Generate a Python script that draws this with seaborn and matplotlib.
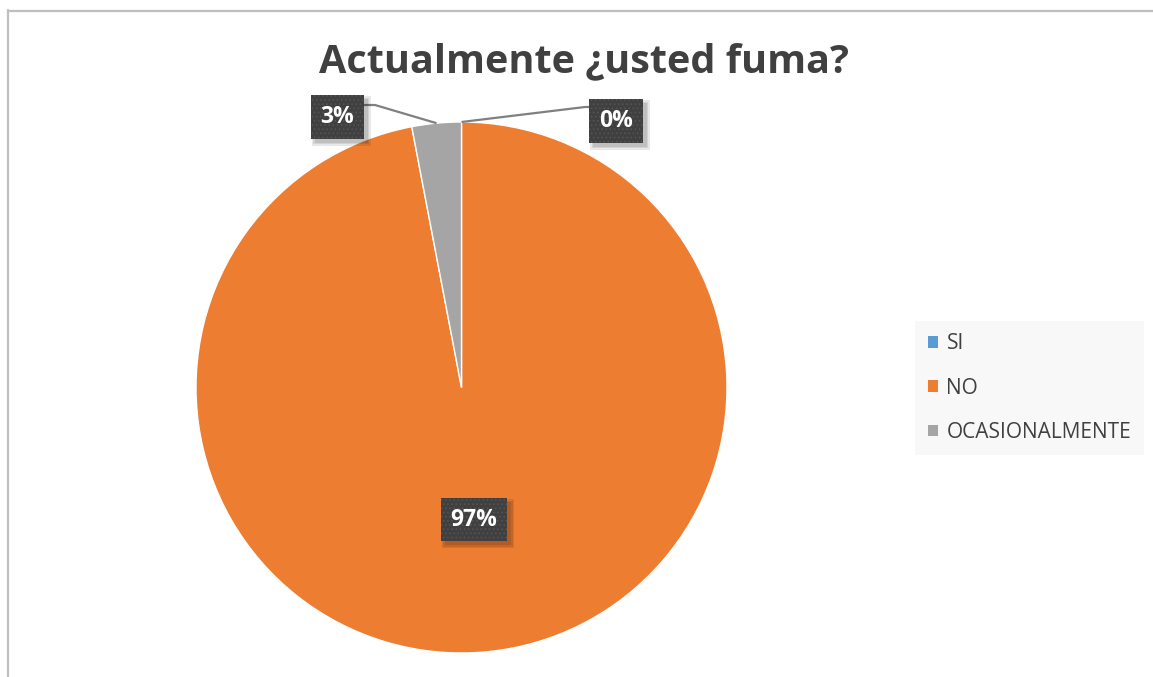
import numpy as np
import matplotlib
matplotlib.use("Agg")
import matplotlib.pyplot as plt
from matplotlib.patches import Patch, Rectangle
from matplotlib.lines import Line2D
from matplotlib.transforms import IdentityTransform
import seaborn as sns

# Survey answers and their shares (percent)
categories = ["SI", "NO", "OCASIONALMENTE"]
shares = [0, 97, 3]
label_texts = ["0%", "97%", "3%"]
colors = ["#5B9BD5", "#ED7D31", "#A5A5A5"]
title = "Actualmente ¿usted fuma?"

sns.set_theme(style="white")
plt.rcParams["font.family"] = ["Open Sans", "DejaVu Sans"]
plt.rcParams["hatch.linewidth"] = 0.6

W, H = 1153, 677
fig = plt.figure(figsize=(W / 100, H / 100), dpi=100)
fig.patch.set_facecolor("white")

# pie axes: centre and radius in pixels
cx, cy, r = 461.5, 387.5, 265.5
ax = fig.add_axes([(cx - r) / W, (H - cy - r) / H, 2 * r / W, 2 * r / H])

wedges, _ = ax.pie(
    shares,
    colors=colors,
    startangle=90,
    counterclock=False,
    radius=1,
    wedgeprops=dict(edgecolor="white", linewidth=1.0),
)
ax.set_xlim(-1, 1)
ax.set_ylim(-1, 1)
ax.set_aspect("equal")
ax.axis("off")

def px_to_data(x, y):
    return (x - cx) / r, (cy - y) / r

def mid_angle(w):
    return np.deg2rad((w.theta1 + w.theta2) / 2)

LABEL_FS = 16.5
LABEL_PAD = 0.42
labels = []

def data_label(x, y, text):
    t = ax.text(x, y, text, ha="center", va="center", color="white",
                fontsize=LABEL_FS, fontweight="bold",
                bbox=dict(boxstyle=f"square,pad={LABEL_PAD}", facecolor="#404040",
                          edgecolor="#565656", linewidth=0, hatch="...."),
                clip_on=False, zorder=6)
    labels.append(t)
    return t

# NO: label inside the wedge
a = mid_angle(wedges[1])
data_label(0.5 * np.cos(a), 0.5 * np.sin(a), label_texts[1])

# OCASIONALMENTE: label outside, with leader line
a = mid_angle(wedges[2])
ex, ey = np.cos(a), np.sin(a)
kx, ky = px_to_data(375, 105)
bx, by = px_to_data(362, 105)
ax.plot([ex, kx, bx], [ey, ky, by], color="#808080", lw=1.6,
        clip_on=False, zorder=5, solid_capstyle="butt")
lx, ly = px_to_data(337, 117)
data_label(lx, ly, label_texts[2])

# SI: zero-width wedge at the top
a = mid_angle(wedges[0])
ex, ey = np.cos(a), np.sin(a)
kx, ky = px_to_data(585, 107)
bx, by = px_to_data(592, 107)
ax.plot([ex, kx, bx], [ey, ky, by], color="#808080", lw=1.6,
        clip_on=False, zorder=5, solid_capstyle="butt")
lx, ly = px_to_data(616, 121)
data_label(lx, ly, label_texts[0])

# title
fig.text(584 / W, 1 - 62 / H, title, ha="center", va="center",
         fontsize=28.5, fontweight="bold", color="#404040")

# legend
handles = [Patch(facecolor=c, edgecolor="none") for c in colors]
leg = fig.legend(
    handles, categories,
    loc="center left",
    bbox_to_anchor=(915 / W, 1 - 388 / H),
    frameon=True,
    fontsize=15,
    handlelength=0.48,
    handleheight=0.48,
    handletextpad=0.43,
    labelspacing=1.12,
    borderpad=0.6,
    borderaxespad=0,
    fancybox=False,
)
leg.get_frame().set_facecolor("#f7f7f7")
leg.get_frame().set_edgecolor("none")
for t in leg.get_texts():
    t.set_color("#404040")

# chart-area border (left and top edges)
fig.add_artist(Line2D([8 / W, 8 / W], [0, 1 - 10 / H], color="#bfbfbf", lw=1.6,
                      transform=fig.transFigure))
fig.add_artist(Line2D([8 / W, 1], [1 - 10.5 / H, 1 - 10.5 / H], color="#bfbfbf", lw=1.6,
                      transform=fig.transFigure))

# soft drop shadows behind the label boxes (translucent layers, offset down-right)
fig.canvas.draw()
renderer = fig.canvas.get_renderer()
for t in labels:
    bb = t.get_bbox_patch().get_window_extent(renderer)
    for grow in (0.0, 1.5, 3.0):
        ax.add_patch(Rectangle((bb.x0 + 4 - grow, bb.y0 - 4 - grow),
                               bb.width + 2 * grow, bb.height + 2 * grow,
                               transform=IdentityTransform(), facecolor="black",
                               alpha=0.09, edgecolor="none", clip_on=False,
                               zorder=5.5))

fig.savefig("out.png", dpi=100, facecolor="white")
